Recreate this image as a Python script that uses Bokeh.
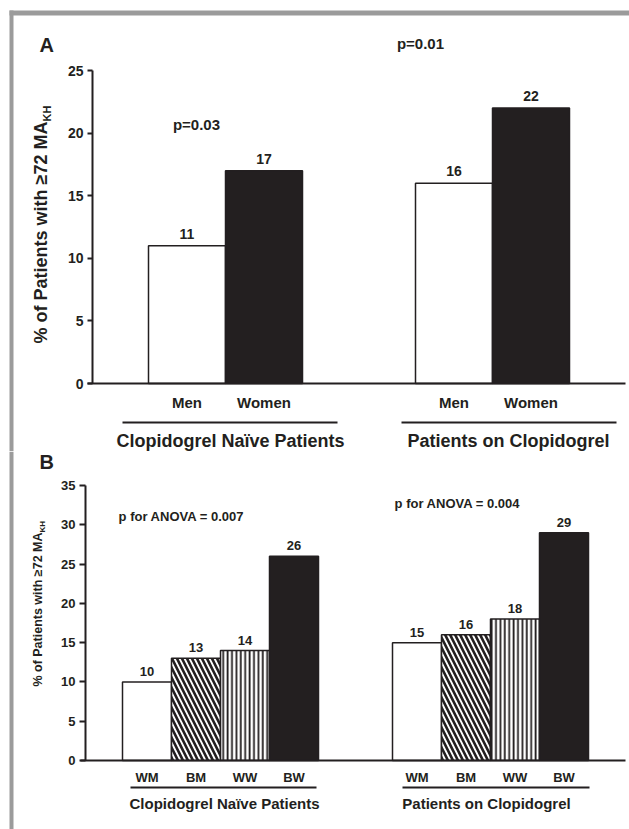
import math
from bokeh.plotting import figure
from bokeh.models import Range1d, LinearAxis, FixedTicker
from bokeh.layouts import column
from bokeh.core.properties import value
from bokeh.embed import file_html
from bokeh.resources import INLINE

# ---------------- data ----------------
groups = ["Clopidogrel Naïve Patients", "Patients on Clopidogrel"]

sexes = ["Men", "Women"]
naive_sex = [11, 17]
clop_sex = [16, 22]
p_sex = ["p=0.03", "p=0.01"]
ticks_a = [0, 5, 10, 15, 20, 25]

race_sex = ["WM", "BM", "WW", "BW"]
naive_race = [10, 13, 14, 26]
clop_race = [15, 16, 18, 29]
p_race = ["p for ANOVA = 0.007", "p for ANOVA = 0.004"]
ticks_b = [0, 5, 10, 15, 20, 25, 30, 35]

ylabel_main = "% of Patients with \u226572 MA"
ylabel_sub = "KH"

# ---------------- style ----------------
DARK = "#231f20"
GRAY = "#9b9b9b"
FONT = "Liberation Sans"
W = 629


def make_panel(top_abs, height, y0_abs, k):
    """Figure whose frame covers the whole panel; x in page pixels."""
    y_end = (y0_abs - top_abs) / k
    y_start = -(top_abs + height - y0_abs) / k
    p = figure(width=W, height=height, x_range=Range1d(0, W),
               y_range=Range1d(y_start, y_end),
               x_axis_type=None, y_axis_type=None,
               output_backend="svg", toolbar_location=None,
               min_border=0, outline_line_color=None,
               background_fill_color="white", border_fill_color="white")
    conv = lambda yabs: (y0_abs - yabs) / k
    return p, conv


def txt(p, x, y, t, size, align="center", baseline="middle", angle=0.0):
    p.text(x=x, y=y, text=t, text_font=value(FONT), text_font_style="bold",
           text_font_size=size, text_color=DARK, text_align=align,
           text_baseline=baseline, angle=angle)


def add_axes(p, yaxis_x, ymax, ticks, xstart, xend, centers, labels,
             tick_size, tick_out, cat_size, cat_standoff):
    ya = LinearAxis(fixed_location=yaxis_x, bounds=(0, ymax),
                    ticker=FixedTicker(ticks=ticks),
                    axis_line_width=2, axis_line_color=DARK,
                    major_tick_line_width=2, major_tick_line_color=DARK,
                    major_tick_out=tick_out, major_tick_in=0,
                    minor_tick_line_color=None,
                    major_label_text_font=FONT,
                    major_label_text_font_style="bold",
                    major_label_text_font_size=tick_size,
                    major_label_text_color=DARK,
                    major_label_standoff=4)
    p.add_layout(ya, "left")
    xa = LinearAxis(fixed_location=0, bounds=(xstart, xend),
                    ticker=FixedTicker(ticks=centers),
                    major_label_overrides={c: l for c, l in zip(centers, labels)},
                    axis_line_width=2, axis_line_color=DARK,
                    major_tick_line_color=None, minor_tick_line_color=None,
                    major_tick_out=0, major_tick_in=0,
                    major_label_text_font=FONT,
                    major_label_text_font_style="bold",
                    major_label_text_font_size=cat_size,
                    major_label_text_color=DARK,
                    major_label_standoff=cat_standoff)
    p.add_layout(xa, "below")


# ================= Panel A =================
A_TOP, A_H, A_Y0, A_K = 0, 451, 383, (383 - 70) / 25
pa, ya_ = make_panel(A_TOP, A_H, A_Y0, A_K)

# gray frame of the figure box
pa.quad(left=9, right=W, top=ya_(10), bottom=ya_(15), fill_color=GRAY, line_color=None)
pa.quad(left=9, right=13, top=ya_(10), bottom=ya_(A_TOP + A_H), fill_color=GRAY, line_color=None)

a_starts = [148, 415]
a_bw = 77
a_fill = ["white", DARK]
a_series = [naive_sex, clop_sex]
centers_a, labels_a = [], []
for g, vals in enumerate(a_series):
    cs = [a_starts[g] + (i + 0.5) * a_bw for i in range(len(vals))]
    centers_a += cs
    labels_a += sexes
    for i, v in enumerate(vals):
        pa.vbar(x=[cs[i]], top=[v], bottom=0, width=a_bw,
                fill_color=a_fill[i], line_color=DARK, line_width=1.5)
    # value labels, floated 7px above the bar tops
    txt(pa, cs, [v + 7 / A_K for v in vals], [str(v) for v in vals], "14px",
        baseline="bottom")

add_axes(pa, 92, 25, ticks_a, 87, 625, centers_a, labels_a,
         "14px", 5, "15px", 10)

# group underlines + labels
pa.segment(x0=[122, 401], x1=[337, 616], y0=[ya_(422)] * 2, y1=[ya_(422)] * 2,
           line_color=DARK, line_width=2)
txt(pa, [230, 508], [ya_(440)] * 2, groups, "18px")
# p values
txt(pa, [196, 420], [ya_(124), ya_(43)], p_sex, "15px")
# panel letter
txt(pa, [39], [ya_(44)], ["A"], "20px", align="left")
# y label with subscript
txt(pa, [40], [ya_(121)], [ylabel_main], "18px", align="right", angle=math.pi / 2)
txt(pa, [46], [ya_(121)], [ylabel_sub], "11px", align="left", angle=math.pi / 2)

# ================= Panel B =================
B_TOP, B_H, B_Y0, B_K = A_TOP + A_H, 829 - A_H, 760, (760 - 485) / 35
pb, yb_ = make_panel(B_TOP, B_H, B_Y0, B_K)
pb.quad(left=9, right=13, top=yb_(B_TOP), bottom=yb_(B_TOP + B_H), fill_color=GRAY, line_color=None)

b_starts = [122, 392]
b_bw = 49
b_fill = ["white", "white", "white", DARK]
b_hatch = [None, "left_diagonal_line", "vertical_line", None]
b_hscale = [1, 10, 4.4, 1]
b_hweight = [1, 2.6, 1.8, 1]
b_series = [naive_race, clop_race]
centers_b, labels_b = [], []
for g, vals in enumerate(b_series):
    cs = [b_starts[g] + (i + 0.5) * b_bw for i in range(len(vals))]
    centers_b += cs
    labels_b += race_sex
    for i, v in enumerate(vals):
        kw = {}
        if b_hatch[i]:
            kw = dict(hatch_pattern=b_hatch[i], hatch_color=DARK,
                      hatch_scale=b_hscale[i], hatch_weight=b_hweight[i])
        pb.vbar(x=[cs[i]], top=[v], bottom=0, width=b_bw,
                fill_color=b_fill[i], line_color=DARK, line_width=1.5, **kw)
    txt(pb, cs, [v + 6 / B_K for v in vals], [str(v) for v in vals], "13px",
        baseline="bottom")

add_axes(pb, 85, 35, ticks_b, 80, 625, centers_b, labels_b,
         "13px", 6, "13px", 9)

pb.segment(x0=[130, 402], x1=[316, 589], y0=[yb_(787)] * 2, y1=[yb_(787)] * 2,
           line_color=DARK, line_width=2)
txt(pb, [224, 486], [yb_(803)] * 2, groups, "15px")
txt(pb, [181, 457], [yb_(516), yb_(503)], p_race, "13px")
txt(pb, [39], [yb_(461)], ["B"], "20px", align="left")
txt(pb, [37], [yb_(532)], [ylabel_main], "12.5px", align="right", angle=math.pi / 2)
txt(pb, [42], [yb_(532)], [ylabel_sub], "8px", align="left", angle=math.pi / 2)

layout = column(pa, pb, spacing=0)
open("out.html", "w").write(file_html(layout, INLINE))
